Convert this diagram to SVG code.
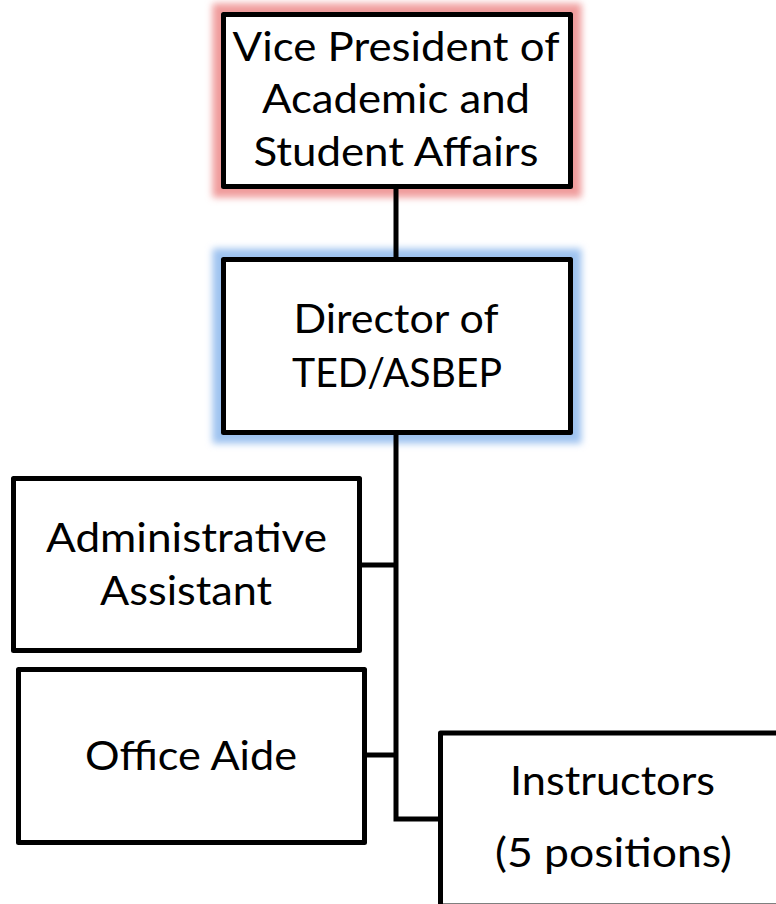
<svg xmlns="http://www.w3.org/2000/svg" width="776" height="904" viewBox="0 0 776 904">
<defs>
<filter id="glow" x="-20%" y="-30%" width="140%" height="160%">
<feGaussianBlur stdDeviation="3.5"/>
</filter>
<style>
.box{fill:#ffffff;stroke:#000000;stroke-width:5;stroke-linejoin:round}
.lbl{font-family:Lato,"Open Sans","Liberation Sans",sans-serif;font-size:40px;fill:#000000;text-anchor:middle}
.conn{fill:none;stroke:#000000;stroke-width:5;stroke-linejoin:miter}
.gpink{fill:none;stroke:#f09c9c;stroke-width:22}
.gblue{fill:none;stroke:#9fc3f0;stroke-width:22}
</style>
</defs>
<rect width="776" height="904" fill="#ffffff"/>
<g id="vp-glow"><rect class="gpink" x="223.5" y="14.5" width="347" height="172" filter="url(#glow)"/></g>
<g id="director-glow"><rect class="gblue" x="223.5" y="259.5" width="347" height="173" filter="url(#glow)"/></g>
<g id="connectors">
<path class="conn" d="M396,189 V258"/>
<path class="conn" d="M396,435 V819 H439"/>
<path class="conn" d="M362,565 H396"/>
<path class="conn" d="M367,755 H396"/>
</g>
<g id="vp">
<rect class="box" x="223.5" y="14.5" width="347" height="172"/>
<text class="lbl" x="396" y="61" textLength="327" lengthAdjust="spacingAndGlyphs">Vice President of</text>
<text class="lbl" x="396" y="113" textLength="268" lengthAdjust="spacingAndGlyphs">Academic and</text>
<text class="lbl" x="396" y="166" textLength="285" lengthAdjust="spacingAndGlyphs">Student Affairs</text>
</g>
<g id="director">
<rect class="box" x="223.5" y="259.5" width="347" height="173"/>
<text class="lbl" x="396" y="333" textLength="205" lengthAdjust="spacingAndGlyphs">Director of</text>
<text class="lbl" x="397" y="387" textLength="210" lengthAdjust="spacingAndGlyphs">TED/ASBEP</text>
</g>
<g id="admin">
<rect class="box" x="13.5" y="478.5" width="346" height="172"/>
<text class="lbl" x="186.5" y="552" textLength="281" lengthAdjust="spacingAndGlyphs">Administrative</text>
<text class="lbl" x="186" y="605" textLength="172" lengthAdjust="spacingAndGlyphs">Assistant</text>
</g>
<g id="aide">
<rect class="box" x="18.5" y="669.5" width="346" height="173"/>
<text class="lbl" x="191" y="770" textLength="212" lengthAdjust="spacingAndGlyphs">Office Aide</text>
</g>
<g id="instructors">
<rect class="box" x="440.5" y="733" width="345" height="173"/>
<text class="lbl" x="612.5" y="795" textLength="205" lengthAdjust="spacingAndGlyphs">Instructors</text>
<text class="lbl" x="613.5" y="867" textLength="237" lengthAdjust="spacingAndGlyphs">(5 positions)</text>
</g>
</svg>
